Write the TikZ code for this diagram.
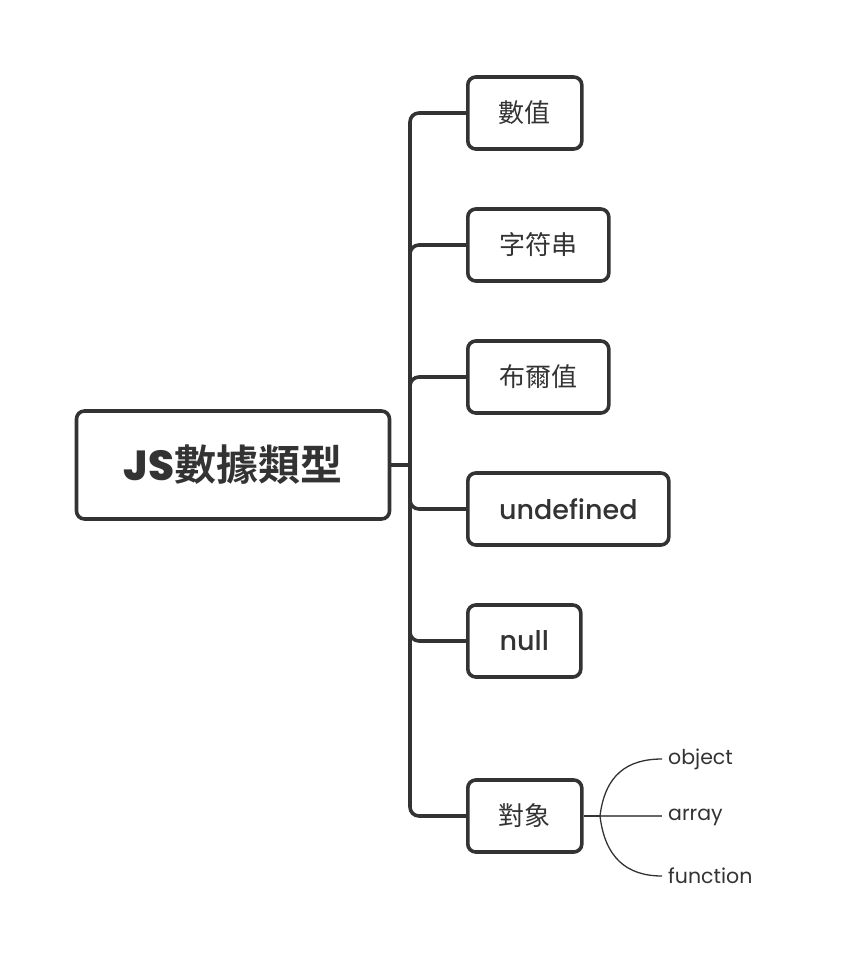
\documentclass[tikz,border=0pt]{standalone}
\usepackage{fontspec}
\setmainfont{Poppins}
\newfontfamily\popm{Poppins Medium}
\newfontfamily\popx{Poppins ExtraBold}
\newfontfamily\cjk{Noto Sans CJK TC}
\newfontfamily\cjkb{Noto Sans CJK TC Bold}
\definecolor{ink}{HTML}{333333}
\definecolor{midgray}{HTML}{666666}
\tikzset{
  box/.style={draw=ink, line width=3.6pt, rounded corners=8pt, fill=white, text=ink,
    font=\fontsize{26}{30}\selectfont, minimum height=72pt, inner sep=0pt, anchor=west},
  lat/.style={font=\fontsize{27}{30}\selectfont\popm},
  rootbox/.style={draw=ink, line width=3.6pt, rounded corners=8pt, fill=white, text=ink,
    minimum width=313pt, minimum height=108pt, inner sep=0pt},
  conn/.style={draw=ink, line width=3.6pt, rounded corners=9pt},
  thinconn/.style={draw=ink, line width=1.3pt},
  leaf/.style={text=ink, font=\fontsize{20.5}{24}\selectfont, anchor=west, inner xsep=6pt, inner ysep=2pt}
}
\begin{document}
\begin{tikzpicture}[x=1pt,y=-1pt]
\useasboundingbox (0,0) rectangle (841,972);
\node[rootbox] (root) at (233,465) {\fontsize{42}{48}\selectfont\popx JS\cjkb 數據類型};
\coordinate (j) at (410,465);
\node[box, minimum width=114pt] (n1) at (466,113) {\cjk 數值};
\node[box, minimum width=141pt] (n2) at (466,245) {\cjk 字符串};
\node[box, minimum width=141pt] (n3) at (466,377) {\cjk 布爾值};
\node[box, lat, minimum width=201pt] (n4) at (466,509) {undefined};
\node[box, lat, minimum width=113pt] (n5) at (466,641) {null};
\node[box, minimum width=114pt] (n6) at (466,816) {\cjk 對象};
\draw[conn, rounded corners=0pt] (root.east) -- (j);
\foreach \n in {n1,n2,n3,n4,n5,n6} {
  \draw[conn] (j) |- (\n.west);
}
\coordinate (s) at (600,816);
\node[leaf] (o) at (662,759) {object};
\node[leaf] (a) at (662,817) {array};
\node[leaf] (f) at (662,876) {function};
\draw[draw=ink, line width=2.6pt] (n6.east) -- (s);
\draw[draw=midgray, line width=1.3pt] (s) -- (s -| a.west);
\draw[thinconn] (s) .. controls (605,775) and (627,759) .. (o.west);
\draw[thinconn] (s) .. controls (605,858) and (627,876) .. (f.west);
\end{tikzpicture}
\end{document}
